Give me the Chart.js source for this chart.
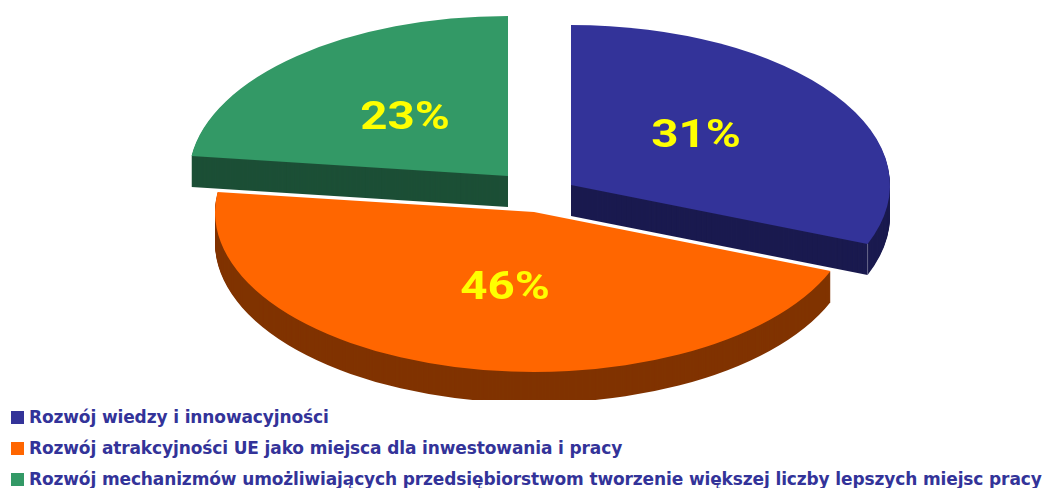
<!DOCTYPE html>
<html lang="pl">
<head>
<meta charset="utf-8">
<style>
html,body{margin:0;padding:0;background:#fff;width:1045px;height:488px;overflow:hidden}
#wrap{position:absolute;left:0;top:0;width:1045px;height:400px}
.lg{position:absolute;left:11px;white-space:nowrap;color:#333399;font:bold 17px "DejaVu Sans",sans-serif;letter-spacing:-0.125px;line-height:20px}
.lg i{position:absolute;left:0;top:4px;width:13px;height:13px}
.lg span{position:absolute;left:18px;top:0}
</style>
</head>
<body>
<div id="wrap"><canvas id="c" width="1045" height="400"></canvas></div>
<div id="legend"></div>
<script src="https://cdn.jsdelivr.net/npm/chart.js@4"></script>
<script>
const categories = [
  "Rozwój wiedzy i innowacyjności",
  "Rozwój atrakcyjności UE jako miejsca dla inwestowania i pracy",
  "Rozwój mechanizmów umożliwiających przedsiębiorstwom tworzenie większej liczby lepszych miejsc pracy"
];
const shares = [31, 46, 23];
const faceColors = ["#333399", "#FF6600", "#339966"];
const wallColors = ["#1A1A4F", "#803300", "#1C4F36"];
const sliceCentres = [[571, 185], [534, 212], [508, 176]];
const labelAnchors = [[696, 147], [505, 299], [405, 129]];
const drawOrder = [2, 0, 1];
const radiusX = 319, radiusY = 160, depth = 31;

const pie3d = {
  id: 'pie3d',
  beforeDatasetDraw(chart, args) {
    const ctx = chart.ctx, arcs = chart.getDatasetMeta(args.index).data;
    const paint = (i, dy, fill) => {
      const a = arcs[i], o = a.options;
      ctx.save();
      ctx.translate(sliceCentres[i][0], sliceCentres[i][1] + dy);
      ctx.scale(radiusX / a.outerRadius, radiusY / a.outerRadius);
      ctx.translate(-a.x, -a.y);
      a.options = Object.create(o, { backgroundColor: { value: fill } });
      a.draw(ctx);
      a.options = o;
      ctx.restore();
    };
    for (const i of drawOrder) {
      for (let d = depth; d > 0; d--) paint(i, d, wallColors[i]);
      paint(i, 0, faceColors[i]);
    }
    // faint highlight on the vertical outer corners of the blue and green slices
    const corners = [[0, arcs[0].endAngle], [2, arcs[2].startAngle]];
    ctx.save();
    ctx.strokeStyle = 'rgba(255,255,255,0.35)';
    ctx.lineWidth = 1;
    for (const [i, ang] of corners) {
      const x = sliceCentres[i][0] + radiusX * Math.cos(ang);
      const y = sliceCentres[i][1] + radiusY * Math.sin(ang);
      ctx.beginPath();
      ctx.moveTo(x, y);
      ctx.lineTo(x, y + depth);
      ctx.stroke();
    }
    ctx.restore();
    ctx.save();
    ctx.textAlign = 'center';
    ctx.textBaseline = 'alphabetic';
    ctx.fillStyle = '#FFFF00';
    ctx.font = '700 38px Roboto, sans-serif';
    shares.forEach((v, i) => {
      ctx.save();
      ctx.translate(labelAnchors[i][0], labelAnchors[i][1]);
      ctx.scale(1.25, 1);
      ctx.fillText(v + '%', 0, 0);
      ctx.restore();
    });
    ctx.restore();
    return false;
  }
};

new Chart(document.getElementById('c'), {
  type: 'pie',
  data: { labels: categories, datasets: [{ data: shares, backgroundColor: faceColors, borderWidth: 0 }] },
  options: {
    responsive: false,
    animation: false,
    layout: { padding: 0 },
    plugins: { legend: { display: false }, tooltip: { enabled: false } }
  },
  plugins: [pie3d]
});

const legendTops = [407, 438, 469];
const box = document.getElementById('legend');
categories.forEach((t, i) => {
  const d = document.createElement('div');
  d.className = 'lg';
  d.style.top = legendTops[i] + 'px';
  const m = document.createElement('i');
  m.style.background = faceColors[i];
  const s = document.createElement('span');
  s.textContent = t;
  d.append(m, s);
  box.append(d);
});
</script>
</body>
</html>
